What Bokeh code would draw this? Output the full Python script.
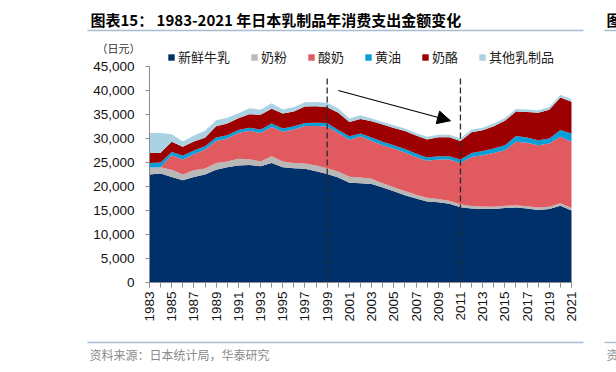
import math
from bokeh.plotting import figure
from bokeh.models import (ColumnDataSource, Legend, LegendItem, Label, BoxAnnotation,
                          Arrow, NormalHead, FixedTicker, NumeralTickFormatter, Range1d, LinearAxis)
from bokeh.embed import file_html
from bokeh.resources import INLINE

years = list(range(1983, 2022))
milk = [22500, 22700, 22000, 21300, 22000, 22500, 23500, 24000, 24400, 24500, 24200, 24900, 24000,
        23800, 23700, 23200, 22600, 21900, 20800, 20700, 20500, 19800, 19000, 18200, 17500, 16900,
        16700, 16400, 15700, 15400, 15300, 15300, 15500, 15600, 15400, 15100, 15300, 16000, 15000]
powder = [1450, 1300, 1500, 1200, 1400, 1250, 1400, 1200, 1400, 1200, 1000, 1400, 1200, 1100, 1100,
          1200, 1200, 1250, 1250, 1200, 1100, 900, 850, 850, 800, 750, 700, 650, 600, 550, 550, 500,
          500, 500, 500, 500, 500, 500, 500]
yogurt = [0, 0, 3000, 3100, 3300, 3950, 4600, 4800, 5350, 5900, 5950, 6100, 6200, 7000, 7800, 8200,
          8700, 8000, 7700, 8550, 7900, 7900, 8050, 8050, 7850, 7700, 8200, 8550, 8600, 10200, 10650,
          11200, 11550, 13200, 13200, 13000, 13150, 13850, 13800]
butter = [950, 1000, 700, 850, 800, 700, 700, 700, 600, 650, 700, 700, 700, 650, 650, 700, 750, 600,
          700, 600, 700, 700, 700, 700, 700, 700, 700, 700, 700, 850, 900, 900, 1050, 1200, 1100, 1050,
          1050, 1400, 1750]
cheese = [2100, 2050, 2100, 1850, 1850, 1750, 2350, 2450, 2450, 2800, 3100, 3100, 3100, 3100, 3400,
          3400, 3250, 3600, 3000, 3000, 3400, 3600, 3600, 3750, 3750, 3750, 3950, 3950, 3900, 4300,
          4300, 4650, 5100, 5100, 5300, 5700, 6000, 6800, 6600]
other = [4150, 4100, 1600, 1100, 1250, 1450, 1250, 1150, 1050, 1250, 1050, 1150, 850, 900, 900, 900,
         950, 900, 700, 800, 550, 550, 550, 550, 550, 550, 550, 550, 550, 550, 550, 550, 550, 550, 550,
         550, 550, 550, 550]

series_names = ["新鲜牛乳", "奶粉", "酸奶", "黄油", "奶酪", "其他乳制品"]
series_keys = ["milk", "powder", "yogurt", "butter", "cheese", "other"]
colors = ["#00306a", "#b8b8b8", "#e05a5f", "#0a9ed8", "#9c0000", "#abd2e2"]
y_min, y_max = 0, 45000
y_ticks = list(range(y_min, y_max + 1, 5000))
x_min, x_max = years[0], years[-1]
label_years = [y for y in years if y % 2 == 1]
divider_years = [1999, 2011]
divider_top = 42500
arrow_from = (2000.0, 40000)
arrow_to = (2010.1, 33700)

title_text = "图表15： 1983-2021 年日本乳制品年消费支出金额变化"
unit_text = "（日元）"
source_text = "资料来源：日本统计局，华泰研究"

# ---- page geometry (pixels) ----
W, H = 616, 372
PL, PR, PT, PB = 149, 571, 66, 282   # plot-area edges on the canvas

ppx = (PR - PL) / (x_max - x_min)
ppy = (PB - PT) / (y_max - y_min)
x_range = Range1d(x_min - PL / ppx, x_max + (W - PR) / ppx)
y_range = Range1d(y_min - (H - PB) / ppy, y_max + PT / ppy)

def sy(py):  # canvas y (from top) -> screen units (from bottom)
    return H - py

src = ColumnDataSource(dict(year=years, milk=milk, powder=powder, yogurt=yogurt,
                            butter=butter, cheese=cheese, other=other))

p = figure(width=W, height=H, x_range=x_range, y_range=y_range,
           output_backend="svg", toolbar_location=None, x_axis_location=None,
           y_axis_location=None, min_border=0)
p.outline_line_color = None
p.grid.visible = False
p.background_fill_color = "white"
p.border_fill_color = "white"

rs = p.varea_stack(stackers=series_keys, x="year", color=colors, source=src)

p.segment(x0=divider_years, y0=[0] * len(divider_years), x1=divider_years,
          y1=[divider_top] * len(divider_years), line_color="#2b2b2b", line_width=1.3,
          line_dash="6 3")

p.add_layout(Arrow(end=NormalHead(size=13, fill_color="black", line_color="black"),
                   x_start=arrow_from[0], y_start=arrow_from[1],
                   x_end=arrow_to[0], y_end=arrow_to[1], line_color="black", line_width=1.1))

# axes (fixed at the plot-area edges)
xa = LinearAxis(fixed_location=y_min, bounds=(x_min, x_max),
                ticker=FixedTicker(ticks=label_years, minor_ticks=years))
xa.major_label_orientation = math.pi / 2
xa.major_tick_in = 0
xa.major_tick_out = 5
xa.minor_tick_in = 0
xa.minor_tick_out = 5
xa.major_label_standoff = 4
ya = LinearAxis(fixed_location=x_min, bounds=(y_min, y_max),
                ticker=FixedTicker(ticks=y_ticks), formatter=NumeralTickFormatter(format="0,0"))
ya.major_tick_in = 0
ya.major_tick_out = 4
ya.minor_tick_out = 0
ya.minor_tick_in = 0
ya.major_label_standoff = 11
for ax in (xa, ya):
    ax.axis_line_color = "#8c8c8c"
    ax.major_tick_line_color = "#8c8c8c"
    ax.minor_tick_line_color = "#8c8c8c"
    ax.major_label_text_font = "Liberation Sans"
    ax.major_label_text_font_size = "13.5px"
    ax.major_label_text_color = "#111111"
p.add_layout(xa, "below")
p.add_layout(ya, "left")

legend = Legend(items=[LegendItem(label=n, renderers=[r]) for n, r in zip(series_names, rs)],
                location=(167, sy(PT)), orientation="horizontal", glyph_width=8, glyph_height=8,
                label_standoff=3, spacing=20, padding=0, margin=0, label_height=16,
                label_text_font="Noto Sans CJK SC", label_text_font_size="13px",
                label_text_color="#222222", background_fill_alpha=0, border_line_alpha=0)
p.add_layout(legend)

def text(x, y, t, size, color, bold=False):
    p.add_layout(Label(x=x, y=sy(y), x_units="screen", y_units="screen", text=t,
                       text_font="Noto Sans CJK SC", text_font_style="bold" if bold else "normal",
                       text_font_size=size, text_baseline="middle", text_color=color))

text(90, 19, title_text, "15px", "#000000", bold=True)
text(96, 47, unit_text, "11px", "#333333")
text(89, 354, source_text, "12px", "#8a8a8a")
text(606, 19, "图", "15px", "#000000", bold=True)
text(606, 354, "资", "12px", "#8a8a8a")

for yy in (30, 342):
    for l, r in ((87, 583), (604, 616)):
        p.add_layout(BoxAnnotation(left=l, right=r, bottom=sy(yy) - 0.7, top=sy(yy) + 0.7,
                                   left_units="screen", right_units="screen",
                                   bottom_units="screen", top_units="screen",
                                   fill_color="#a9bdd1", fill_alpha=1, line_alpha=0))

open("out.html", "w").write(file_html(p, INLINE))
